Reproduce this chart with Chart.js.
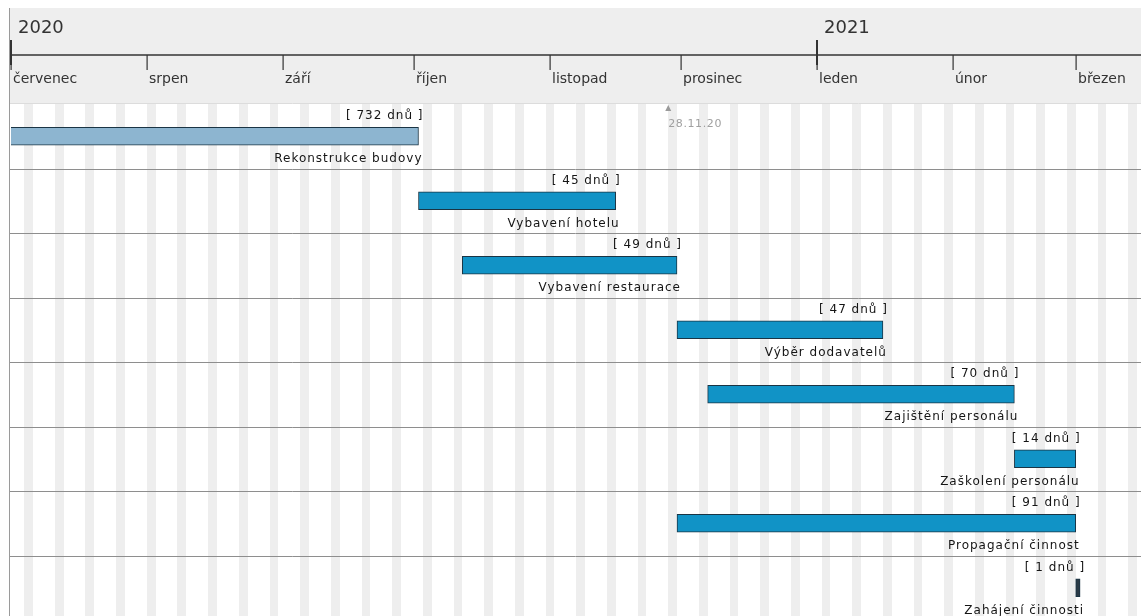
<!DOCTYPE html>
<html>
<head>
<meta charset="utf-8">
<script src="https://cdn.jsdelivr.net/npm/chart.js@4/dist/chart.umd.min.js"></script>
<style>
  html, body { margin: 0; padding: 0; background: #fff; overflow: hidden; }
  canvas { display: block; }
</style>
</head>
<body>
<canvas id="gantt" width="1141" height="620"></canvas>
<script>
// Gantt: hotel project, view from July 2020 to mid March 2021.
const TASKS = [
  "Rekonstrukce budovy", "Vybavení hotelu", "Vybavení restaurace", "Výběr dodavatelů",
  "Zajištění personálu", "Zaškolení personálu", "Propagační činnost", "Zahájení činnosti",
];
const STARTS = [
  "2018-10-01", "2020-10-02", "2020-10-12", "2020-11-30",
  "2020-12-07", "2021-02-15", "2020-11-30", "2021-03-01",
];
const DURATIONS = [732, 45, 49, 47, 70, 14, 91, 1];

const MONTHS = ["červenec", "srpen", "září", "říjen", "listopad", "prosinec", "leden", "únor", "březen"];
const MONTH_STARTS = [
  "2020-07-01", "2020-08-01", "2020-09-01", "2020-10-01", "2020-11-01",
  "2020-12-01", "2021-01-01", "2021-02-01", "2021-03-01",
];
const YEARS = ["2020", "2021"];
const YEAR_STARTS = ["2020-07-01", "2021-01-01"];
const TODAY = "2020-11-28";
const TODAY_LABEL = "28.11.20";

const VIEW_START = "2020-07-01";
const VIEW_DAYS = 257.9;

const BAR_BLUE = "#1193c6";
const BAR_PAST = "#8db5d0";
const BAR_MILESTONE = "#2a3a46";

const DAY = 86400000;
function dayOf(s) {
  return (Date.parse(s + "T00:00:00Z") - Date.parse(VIEW_START + "T00:00:00Z")) / DAY;
}

const ranges = STARTS.map((s, i) => [dayOf(s), dayOf(s) + DURATIONS[i]]);
const colors = TASKS.map((t, i) => i === 0 ? BAR_PAST : (DURATIONS[i] === 1 ? BAR_MILESTONE : BAR_BLUE));

const FONT_SMALL = "12px 'DejaVu Sans'";

// header, weekend stripes, row lines
const backdrop = {
  id: "backdrop",
  beforeDraw(chart) {
    const { ctx, chartArea: a } = chart;
    const x = chart.scales.x;
    ctx.save();
    ctx.fillStyle = "#fff";
    ctx.fillRect(0, 0, chart.width, chart.height);

    // weekend stripes (1.7.2020 is a Wednesday)
    ctx.fillStyle = "#eeeeee";
    for (let d = 0; d < VIEW_DAYS; d++) {
      const dow = (3 + d) % 7;
      if (dow === 6) {
        const x0 = Math.round(x.getPixelForValue(d)), x1 = Math.round(x.getPixelForValue(d + 2));
        ctx.fillRect(x0, a.top, x1 - x0, a.bottom - a.top);
      }
    }

    // row separators
    const rows = TASKS.length;
    const rh = (a.bottom - a.top) / rows;
    ctx.strokeStyle = "#8e8e8e";
    ctx.lineWidth = 1;
    for (let i = 1; i <= rows; i++) {
      const y = Math.round(a.top + i * rh) + 0.5;
      ctx.beginPath(); ctx.moveTo(10, y); ctx.lineTo(chart.width, y); ctx.stroke();
    }

    // header
    ctx.fillStyle = "#eeeeee";
    ctx.fillRect(10, 8, chart.width - 10, a.top - 9);
    ctx.strokeStyle = "#dcdcdc";
    ctx.beginPath(); ctx.moveTo(10, a.top - 0.5); ctx.lineTo(chart.width, a.top - 0.5); ctx.stroke();

    // timeline
    ctx.strokeStyle = "#333";
    ctx.lineWidth = 1.5;
    ctx.beginPath(); ctx.moveTo(a.left, 55); ctx.lineTo(chart.width, 55); ctx.stroke();

    ctx.fillStyle = "#333";
    ctx.textBaseline = "middle";
    ctx.textAlign = "left";
    ctx.font = "18px 'DejaVu Sans'";
    YEARS.forEach((yr, i) => {
      const px = Math.round(x.getPixelForValue(dayOf(YEAR_STARTS[i])));
      ctx.fillRect(px - 1, 40, 2, 25);
      ctx.fillText(yr, px + 7, 28);
    });
    ctx.font = "14px 'DejaVu Sans'";
    MONTHS.forEach((m, i) => {
      const px = Math.round(x.getPixelForValue(dayOf(MONTH_STARTS[i])));
      ctx.fillRect(px - 0.5, 55, 1.2, 15);
      ctx.fillText(m, px + 2, 79);
    });

    // left border
    ctx.strokeStyle = "#9a9a9a";
    ctx.lineWidth = 1;
    ctx.beginPath(); ctx.moveTo(9.5, 8); ctx.lineTo(9.5, chart.height); ctx.stroke();

    // today marker
    const tx = x.getPixelForValue(dayOf(TODAY));
    ctx.fillStyle = "#9a9a9a";
    ctx.beginPath(); ctx.moveTo(tx, a.top + 1); ctx.lineTo(tx - 3, a.top + 7); ctx.lineTo(tx + 3, a.top + 7); ctx.closePath(); ctx.fill();
    ctx.font = "11px 'DejaVu Sans'";
    ctx.letterSpacing = "0.6px";
    ctx.fillStyle = "#a0a0a0";
    ctx.fillText(TODAY_LABEL, tx, a.top + 20);
    ctx.restore();
  },
};

// duration and name beside every bar
const barLabels = {
  id: "barLabels",
  afterDatasetsDraw(chart) {
    const { ctx } = chart;
    const x = chart.scales.x;
    const meta = chart.getDatasetMeta(0);
    ctx.save();
    ctx.font = FONT_SMALL;
    ctx.letterSpacing = "1px";
    ctx.fillStyle = "#151515";
    ctx.textAlign = "right";
    ctx.textBaseline = "middle";
    meta.data.forEach((bar, i) => {
      const right = x.getPixelForValue(ranges[i][1]) + 4;
      const top = bar.y - bar.height / 2;
      const bottom = bar.y + bar.height / 2;
      ctx.fillText("[ " + DURATIONS[i] + " dnů ]", right + 1, top - 11);
      ctx.fillText(TASKS[i], right, bottom + 14);
    });
    ctx.restore();
  },
};

new Chart(document.getElementById("gantt"), {
  type: "bar",
  data: {
    labels: TASKS,
    datasets: [{
      data: ranges,
      backgroundColor: colors,
      borderColor: "#1a3444",
      borderWidth: 1,
      borderSkipped: false,
      barThickness: 18,
    }],
  },
  options: {
    indexAxis: "y",
    responsive: false,
    animation: false,
    layout: { padding: { top: 104, left: 11, right: 0, bottom: 0 } },
    plugins: { legend: { display: false }, tooltip: { enabled: false } },
    scales: {
      x: { type: "linear", min: 0, max: VIEW_DAYS, display: false },
      y: { display: false, offset: true },
    },
  },
  plugins: [backdrop, barLabels],
});
</script>
</body>
</html>
